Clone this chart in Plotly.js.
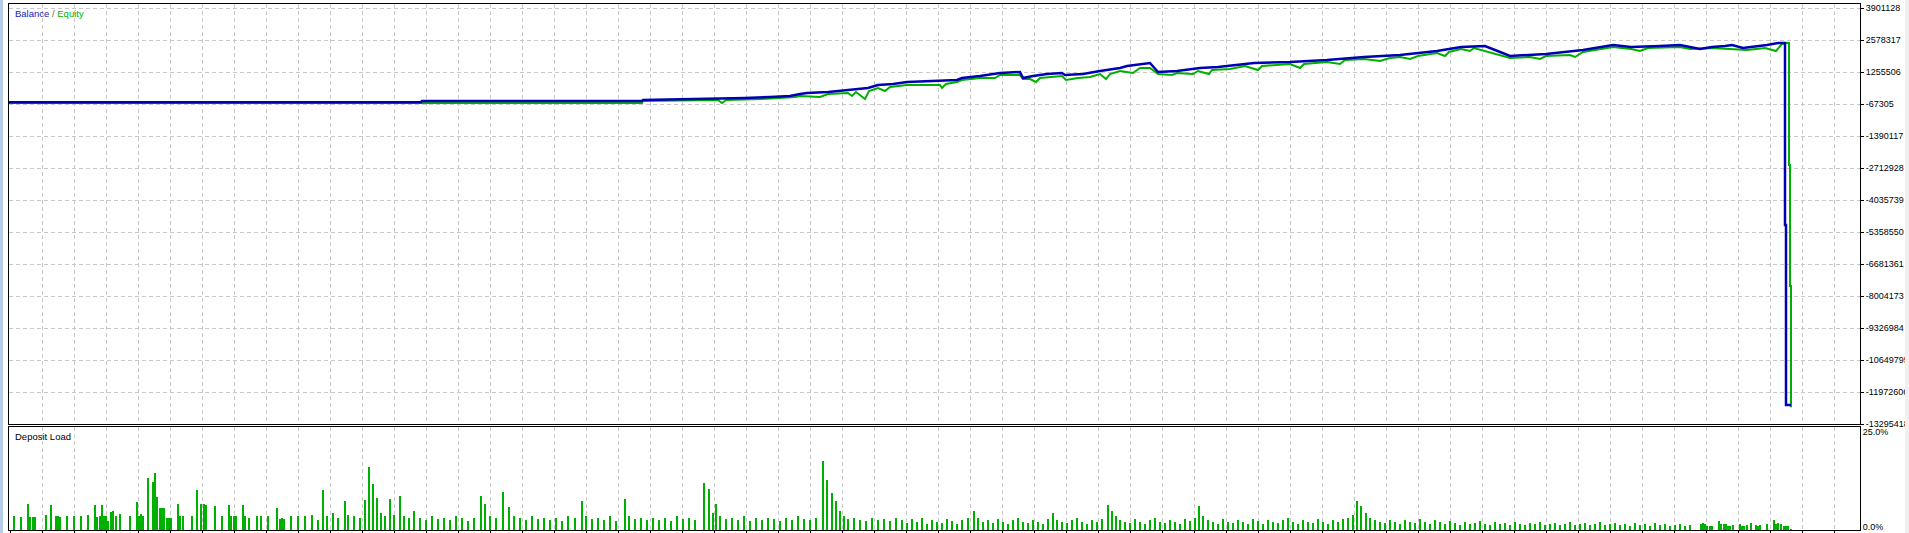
<!DOCTYPE html>
<html>
<head>
<meta charset="utf-8">
<script src="https://cdn.plot.ly/plotly-3.0.1.min.js"></script>
<style>
html,body{margin:0;padding:0;background:#fff;}
#chart{width:1909px;height:533px;}
</style>
</head>
<body>
<div id="chart"></div>
<script>
// ---- Balance curve (trade number, balance) ----
const balanceTrade = [0,412,413,633,634,709,736,761,781,791,798,819,839,859,869,884,898,938,948,953,971,991,1011,1014,1024,1038,1053,1056,1074,1091,1111,1118,1141,1149,1168,1191,1209,1245,1281,1318,1355,1391,1428,1452,1476,1486,1501,1537,1574,1604,1622,1651,1671,1691,1703,1716,1723,1734,1744,1751,1758,1769,1776,1776,1777,1777,1782];
const balance = [10000,10000,56700,56700,98000,139400,180700,222000,263400,346100,387400,428700,511400,594100,718100,759400,842100,883500,924800,1007500,1090100,1214200,1255500,1007500,1090100,1172800,1214200,1131500,1172800,1296800,1420800,1503500,1627500,1255500,1296800,1420800,1462200,1627500,1668900,1751600,1875600,1958200,2123600,2288900,2330300,2164900,1916900,1999600,2164900,2371600,2288900,2330300,2371600,2206300,2288900,2330300,2371600,2247600,2288900,2330300,2371600,2454300,2454300,-5069200,-5069200,-12510100,-12510100];

// ---- Equity curve (trade number, equity) ----
const equityTrade = [0,633,634,709,713,717,752,771,786,791,811,819,839,843,847,856,860,869,876,881,898,931,933,937,948,953,971,986,989,991,1011,1014,1021,1027,1031,1053,1057,1069,1081,1091,1097,1101,1111,1124,1131,1141,1149,1163,1168,1184,1189,1200,1203,1221,1236,1249,1253,1281,1291,1295,1318,1331,1336,1355,1371,1381,1391,1401,1409,1428,1436,1440,1452,1461,1465,1486,1501,1521,1531,1537,1561,1566,1574,1604,1622,1631,1639,1671,1681,1703,1738,1747,1756,1767,1772,1775,1780,1780,1781,1781,1782,1782];
const equity = [-26000,-26000,56700,98000,-26000,98000,139400,180700,222000,263400,222000,346100,387400,263400,428700,139400,470100,594100,470100,635400,718100,718100,594100,759400,842100,924800,1007500,1007500,1090100,1131500,1131500,966100,966100,842100,1007500,1090100,924800,1007500,1048800,1172800,966100,1172800,1296800,1214200,1420800,1420800,1172800,1131500,1214200,1172800,1296800,1172800,1338200,1379500,1503500,1338200,1503500,1586200,1420800,1586200,1668900,1586200,1751600,1792900,1710200,1834200,1875600,1792900,1916900,2040900,1916900,2082300,2206300,2123600,2247600,1999600,1834200,1875600,1792900,1916900,1958200,1875600,2082300,2288900,2206300,2123600,2247600,2288900,2206300,2247600,2164900,2206300,2247600,2123600,2371600,2454300,2454300,-2588900,-2588900,-7590800,-7590800,-12600000];

// ---- Deposit load (trade number, %) ----
const loadTrade = [5,12,19,21,24,26,37,42,47,49,51,58,65,72,79,86,88,91,93,95,97,99,102,104,107,111,121,128,130,132,134,139,144,146,148,151,153,155,158,160,162,169,171,174,183,188,192,195,197,206,213,220,222,225,227,234,236,240,248,252,259,268,271,273,275,282,289,
296,303,309,314,318,324,329,336,339,345,351,356,360,364,368,372,376,381,385,391,395,400,405,411,417,423,429,435,441,447,453,459,465,472,476,481,487,494,500,505,511,517,523,529,535,541,547,553,559,566,573,577,583,589,595,601,607,616,620,626,632,638,644,650,656,662,668,674,680,686,695,700,704,707,711,717,723,729,735,741,747,753,759,765,771,777,783,789,795,801,807,814,818,823,827,831,835,839,845,851,857,863,869,875,881,887,
893,898,903,908,913,918,923,928,933,938,943,948,953,959,965,969,974,979,984,989,994,999,1004,1009,1014,1019,1024,1029,1034,1039,1044,1048,1053,1058,1063,1068,1073,1078,1083,1088,1093,1099,1103,1107,1111,1116,1121,1126,1131,1136,1141,1146,1151,1156,1161,1166,1171,1176,1181,1186,1190,1194,1199,1204,1209,1214,1219,1224,1229,1234,1239,1244,1249,1254,1259,1264,1269,1274,1279,1284,1289,1294,1299,1304,1309,1314,1319,1324,1329,1334,1339,1344,1348,1352,1357,1361,1366,1371,1376,1381,1386,1391,1396,1401,1406,1411,1416,1421,1426,1431,1436,1441,1446,1451,1456,1461,1466,1471,1476,1481,1486,1491,1496,1501,1506,1511,1516,1521,1526,1531,1536,1541,1546,1551,1556,1561,1566,1571,1576,1581,1586,1591,1596,1601,1606,1611,1616,1621,1626,1631,1636,1641,1646,1651,1656,1661,1666,1671,1676,1681,
1692,1694,1696,1698,1701,1703,1710,1712,1715,1717,1719,1721,1724,1731,1733,1735,1738,1742,1747,1749,1751,1758,1765,1767,1769,1772,1775,1777,1779,1782];
const loadPct = [3.5,3.4,6.7,3.4,3.4,3.4,4.0,6.5,3.5,3.5,3.4,3.7,3.7,3.7,3.9,6.5,3.4,3.5,6.5,3.5,3.5,2.2,4.7,5.0,3.5,4.2,3.7,7.2,3.7,4.2,3.5,13.7,12.5,15.0,8.5,5.7,5.7,5.7,3.0,3.0,3.0,6.7,3.5,3.5,3.7,10.5,6.7,6.7,6.5,6.2,3.5,6.5,3.5,3.5,3.5,6.5,3.5,3.0,3.5,3.5,3.5,5.7,2.8,3.0,2.8,3.5,3.5,
3.5,4.0,2.5,10.5,3.5,4.5,3.0,7.5,4.0,3.5,3.0,7.8,16.5,12.0,8.4,4.5,3.5,8.0,4.0,9.0,3.5,3.0,5.0,3.0,2.5,3.5,2.8,3.0,2.5,3.5,3.0,2.2,3.0,9.0,6.8,3.5,3.0,10.0,5.9,3.5,3.0,2.5,3.5,2.8,3.2,2.5,3.0,2.2,3.5,3.0,7.5,3.5,2.8,3.0,2.5,3.5,2.2,8.0,3.5,2.8,3.0,2.5,3.2,2.5,3.0,2.2,3.5,2.8,3.0,2.5,12.4,10.6,4.5,6.8,3.5,2.8,3.0,2.5,3.5,2.2,3.0,2.5,3.2,2.8,2.2,3.0,2.5,3.5,2.8,2.5,3.0,18.0,13.0,9.6,7.5,5.0,3.5,2.8,3.0,2.5,2.2,3.0,2.5,2.8,2.2,3.0,
2.5,1.8,2.8,2.0,3.0,1.5,2.5,2.0,1.8,2.8,2.2,1.5,2.5,3.0,5.0,3.0,2.0,2.5,1.8,2.8,2.0,1.5,2.5,3.0,2.0,1.8,2.5,2.0,1.5,2.8,4.3,2.5,2.0,1.8,2.5,3.0,2.0,1.5,2.5,2.0,2.8,6.5,5.0,3.5,2.5,2.0,1.8,2.8,2.0,1.5,2.5,3.0,2.0,1.8,2.5,2.0,1.5,2.8,2.2,3.0,6.2,3.5,2.5,2.0,1.5,2.8,2.0,1.8,2.5,2.0,1.5,2.8,2.2,1.5,2.5,2.0,1.8,2.5,3.0,2.0,1.5,2.5,2.0,1.8,2.8,2.0,1.5,2.5,2.0,2.8,3.0,4.0,7.5,6.2,4.3,3.0,2.5,2.0,1.8,2.5,2.0,1.5,2.5,2.0,1.8,2.8,2.0,1.5,2.5,2.0,1.5,2.2,1.8,1.2,2.0,1.5,1.8,2.2,1.5,1.2,2.0,1.5,1.8,1.2,2.0,1.5,1.2,1.8,1.5,2.0,1.2,1.5,1.8,1.2,1.5,2.0,1.2,1.5,1.8,1.2,1.5,2.0,1.2,1.5,1.8,1.2,1.5,1.0,1.8,1.2,1.5,1.0,1.8,1.2,1.5,1.0,1.2,1.5,1.0,1.2,
1.5,1.9,1.6,0.9,0.9,0.9,2.4,1.6,1.6,1.6,0.9,0.9,1.2,1.6,0.9,0.9,1.2,1.8,1.2,0.9,1.2,1.6,2.5,1.6,1.8,1.5,0.9,0.9,0.9,0.3];

// ---- Axis tick values / labels ----
const balanceTicks = [3901128,2578317,1255506,-67305,-1390117,-2712928,-4035739,-5358550,-6681361,-8004173,-9326984,-10649795,-11972606,-13295418];
const balanceTickText = balanceTicks.map(v => String(v));
const loadTicks = [0,25];
const loadTickText = ['0.0%','25.0%'];

const GRID = '#c8c8c8';
const FONT = 'Liberation Sans, Arial, sans-serif';

const traces = [
  {type:'scatter', mode:'lines', x:equityTrade, y:equity, xaxis:'x', yaxis:'y',
   line:{color:'#00b000', width:2, shape:'linear'}, hoverinfo:'skip'},
  {type:'scatter', mode:'lines', x:balanceTrade, y:balance, xaxis:'x', yaxis:'y',
   line:{color:'#0000b4', width:2.5, shape:'linear'}, hoverinfo:'skip'},
  {type:'bar', x:loadTrade, y:loadPct, xaxis:'x2', yaxis:'y2', width:2,
   marker:{color:'#00b000', line:{width:0}}, hoverinfo:'skip'}
];

const xCommon = {
  range:[0,1851], tick0:33, dtick:32, showgrid:true, gridcolor:GRID, griddash:'4px,3px', gridwidth:1,
  zeroline:false, showticklabels:false, showline:true, mirror:true, linecolor:'#000', linewidth:1
};

const layout = {
  width:1909, height:533,
  margin:{l:9, r:49, t:4, b:3},
  paper_bgcolor:'#ffffff', plot_bgcolor:'#ffffff',
  showlegend:false, bargap:0,
  font:{family:FONT, size:9, color:'#000'},
  xaxis:Object.assign({}, xCommon, {anchor:'y', ticks:''}),
  xaxis2:Object.assign({}, xCommon, {anchor:'y2', ticks:'outside', ticklen:3, tickcolor:'#000'}),
  yaxis:{
    domain:[0.2015,1], range:[-13295418,4066480], side:'right', anchor:'x',
    tickmode:'array', tickvals:balanceTicks, ticktext:balanceTickText,
    ticks:'outside', ticklen:3, tickcolor:'#000', ticklabeloverflow:'allow',
    showgrid:true, gridcolor:GRID, griddash:'4px,3px', zeroline:false,
    showline:true, mirror:true, linecolor:'#000', linewidth:1,
    tickfont:{family:FONT, size:9, color:'#000'}
  },
  yaxis2:{
    domain:[0,0.1958], range:[-0.05,27.0], side:'right', anchor:'x2',
    tickmode:'array', tickvals:loadTicks, ticktext:loadTickText,
    ticks:'', showgrid:false, zeroline:false, ticklabeloverflow:'allow', ticklabelshift:-3,
    showline:true, mirror:true, linecolor:'#000', linewidth:1,
    tickfont:{family:FONT, size:9, color:'#000'}
  },
  annotations:[
    {xref:'paper', yref:'paper', x:0.0022, y:1, xanchor:'left', yanchor:'top', yshift:-2, showarrow:false,
     text:'<span style="color:#1a1ab4">Balance</span> <span style="color:#806020">/</span> <span style="color:#00b000">Equity</span>',
     font:{family:FONT, size:9.5}},
    {xref:'paper', yref:'paper', x:0.0022, y:0.1958, xanchor:'left', yanchor:'top', yshift:-2, showarrow:false,
     text:'Deposit Load', font:{family:FONT, size:9.5, color:'#000'}}
  ],
  shapes:[
    {type:'rect', xref:'paper', yref:'paper', x0:-9/1851, x1:-6/1851, y0:-0.01, y1:1.01, fillcolor:'#b8cde6', line:{width:0}, layer:'above'},
    {type:'rect', xref:'paper', yref:'paper', x0:1896/1851, x1:1901/1851, y0:-0.01, y1:1.01, fillcolor:'#f0f0f0', line:{width:0}, layer:'above'}
  ]
};

Plotly.newPlot('chart', traces, layout, {staticPlot:true, displayModeBar:false});
</script>
</body>
</html>
